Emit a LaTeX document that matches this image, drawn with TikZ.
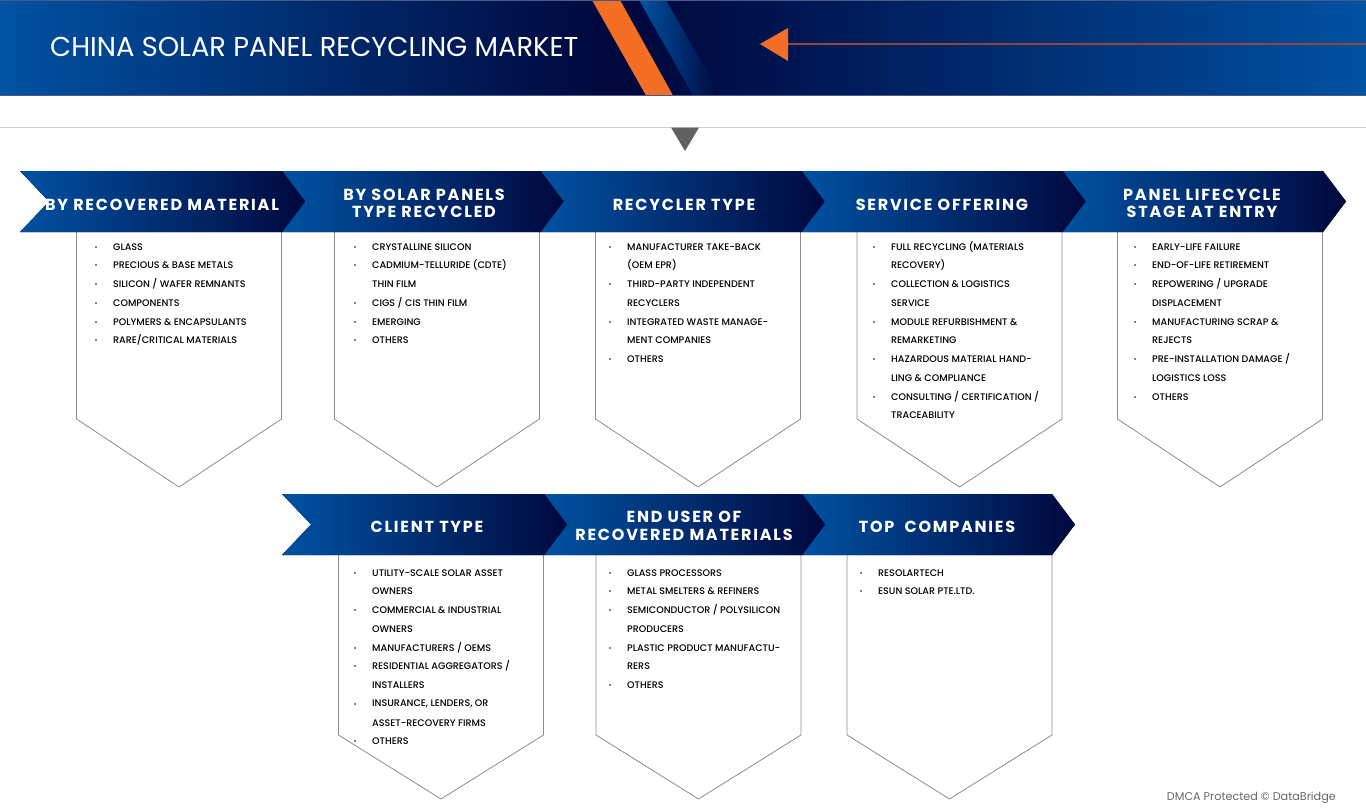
\documentclass[tikz,border=0pt]{standalone}
\usepackage{fontspec}
\setmainfont{Poppins}
\newfontfamily\heads[LetterSpace=11]{Poppins}
\newfontfamily\titlef{Poppins}
\newfontfamily\itemf{Poppins Medium}
\usetikzlibrary{calc}
\definecolor{bandblue}{RGB}{0,82,162}
\definecolor{navy}{RGB}{0,8,62}
\definecolor{midnavy}{RGB}{0,20,80}
\definecolor{orng}{RGB}{244,110,38}
\definecolor{rulebrown}{RGB}{145,70,55}
\definecolor{boxline}{RGB}{140,140,140}
\definecolor{bandedge}{RGB}{70,90,140}
\tikzset{
 chev/.style={left color=bandblue,right color=navy,draw=none},
 headtext/.style={text=white,align=center,font=\heads\bfseries\fontsize{16}{17.5}\selectfont,inner sep=0pt},
 panel/.style={draw=boxline,line width=0.8pt,fill=white},
 itemtext/.style={anchor=west,inner sep=0pt,font=\itemf\fontsize{9.55}{11}\selectfont,text=black},
 dot/.style={circle,fill=black,inner sep=0pt,minimum size=1.6pt}
}
\newcounter{itc}
% bullet line
\newcommand{\bul}[4][17]{\stepcounter{itc}\node[dot] (d\theitc) at (#2-#1,#3+1) {};\node[itemtext] (t\theitc) at (#2,#3+1) {#4};}
% continuation line
\newcommand{\cont}[3]{\stepcounter{itc}\node[itemtext] (t\theitc) at (#1,#2+1) {#3};}
% chevron: [notch depth] x0, shoulder, y top, y bottom
\newcommand{\chevron}[5][23]{\fill[chev] (#2,#4) -- (#3,#4) -- (#3+23,{(#4+#5)/2}) -- (#3,#5) -- (#2,#5) -- (#2+#1,{(#4+#5)/2}) -- cycle;}
% panel: xl, xr, ytop, yside, ytip
\newcommand{\panelbox}[5]{\draw[panel] (#1,#3) -- (#1,#4) -- ({(#1+#2)/2},#5) -- (#2,#4) -- (#2,#3);}
\begin{document}
\begin{tikzpicture}[x=1pt,y=-1pt]
\useasboundingbox (0,0) rectangle (1366,808);
% top band
\fill[left color=bandblue,right color=navy] (0,0) rectangle (600,95.5);
\fill[navy] (600,0) rectangle (640,95.5);
\fill[left color=navy,right color=midnavy] (640,0) rectangle (780,95.5);
\fill[left color=midnavy,right color=bandblue] (780,0) rectangle (1366,95.5);
\fill[left color=bandblue,right color=navy] (639,0) -- (666,0) -- (705,68) -- (720,95.5) -- (693,95.5) -- cycle;
\fill[orng] (592,0) -- (620,0) -- (673,95.5) -- (646,95.5) -- cycle;
\fill[bandedge] (0,0) rectangle (1366,0.8);
\fill[bandedge] (0,95) rectangle (1366,95.8);
\node[text=white,anchor=west,inner sep=0pt,font=\titlef\fontsize{27.3}{30}\selectfont] (title) at (50,47) {CHINA SOLAR PANEL RECYCLING MARKET};
\coordinate (linestart) at (788,44);
\coordinate (lineend) at (1366,44);
\draw[rulebrown,line width=1.2pt] (linestart) -- (lineend);
\fill[orng] (760,44) -- (788,28) -- (788,61) -- cycle;
% rule and marker
\coordinate (ruleL) at (0,127.5);
\coordinate (ruleR) at (1366,127.5);
\draw[black!18,line width=0.8pt] (ruleL) -- (ruleR);
\fill[black!62] (671,127.5) -- (699,127.5) -- (685,151) -- cycle;
% panels row 1
\panelbox{76.5}{281.5}{232}{419}{487}
\panelbox{334.5}{539.5}{232}{419}{487}
\panelbox{595.5}{800.5}{232}{419}{487}
\panelbox{857}{1062}{232}{419}{487}
\panelbox{1117.5}{1322.5}{232}{419}{487}
% panels row 2
\panelbox{338.5}{543.5}{555}{735}{799}
\panelbox{596}{801}{555}{735}{799}
\panelbox{847}{1052}{555}{735}{799}
% chevrons row 1 (right to left so tips overlap)
\chevron{1062.5}{1323}{171}{232}
\chevron{801.5}{1062.5}{171}{232}
\chevron{540.5}{801.5}{171}{232}
\chevron{282}{540.5}{171}{232}
\chevron[29]{20}{282}{171}{232}
% chevrons row 2
\chevron{802}{1052}{494}{555}
\chevron{544}{802}{494}{555}
\chevron[29]{282}{544}{494}{555}
% headings
\node[headtext] (h1) at (162,204.5) {BY RECOVERED MATERIAL};
\node[headtext] (h2) at (424,203.5) {BY SOLAR PANELS\\TYPE RECYCLED};
\node[headtext] (h3) at (684,204.5) {RECYCLER TYPE};
\node[headtext] (h4) at (942,204.5) {SERVICE OFFERING};
\node[headtext] (h5) at (1202,203.5) {PANEL LIFECYCLE\\STAGE AT ENTRY};
\node[headtext] (h6) at (427,526.5) {CLIENT TYPE};
\node[headtext] (h7) at (684,526) {END USER OF\\RECOVERED MATERIALS};
\node[headtext] (h8) at (937,526.5) {TOP\ \ COMPANIES};
% column 1
\bul{113}{246}{GLASS}
\bul{113}{264}{PRECIOUS \& BASE METALS}
\bul{113}{283}{SILICON / WAFER REMNANTS}
\bul{113}{302}{COMPONENTS}
\bul{113}{321}{POLYMERS \& ENCAPSULANTS}
\bul{113}{339}{RARE/CRITICAL MATERIALS}
% column 2
\bul{372}{246}{CRYSTALLINE SILICON}
\bul{372}{264}{CADMIUM-TELLURIDE (CDTE)}
\cont{372}{283}{THIN FILM}
\bul{372}{302}{CIGS / CIS THIN FILM}
\bul{372}{321}{EMERGING}
\bul{372}{339}{OTHERS}
% column 3
\bul{627}{246}{MANUFACTURER TAKE-BACK}
\cont{627}{264}{(OEM EPR)}
\bul{627}{283}{THIRD-PARTY INDEPENDENT}
\cont{627}{302}{RECYCLERS}
\bul{627}{321}{INTEGRATED WASTE MANAGE-}
\cont{627}{339}{MENT COMPANIES}
\bul{627}{358}{OTHERS}
% column 4
\bul{891}{246}{FULL RECYCLING (MATERIALS}
\cont{891}{264}{RECOVERY)}
\bul{891}{283}{COLLECTION \& LOGISTICS}
\cont{891}{302}{SERVICE}
\bul{891}{321}{MODULE REFURBISHMENT \&}
\cont{891}{339}{REMARKETING}
\bul{891}{358}{HAZARDOUS MATERIAL HAND-}
\cont{891}{377}{LING \& COMPLIANCE}
\bul{891}{396}{CONSULTING / CERTIFICATION /}
\cont{891}{414}{TRACEABILITY}
% column 5
\bul{1152}{246}{EARLY-LIFE FAILURE}
\bul{1152}{264}{END-OF-LIFE RETIREMENT}
\bul{1152}{283}{REPOWERING / UPGRADE}
\cont{1152}{302}{DISPLACEMENT}
\bul{1152}{321}{MANUFACTURING SCRAP \&}
\cont{1152}{339}{REJECTS}
\bul{1152}{358}{PRE-INSTALLATION DAMAGE /}
\cont{1152}{377}{LOGISTICS LOSS}
\bul{1152}{396}{OTHERS}
% column 6
\bul{372}{572}{UTILITY-SCALE SOLAR ASSET}
\cont{372}{590}{OWNERS}
\bul{372}{609}{COMMERCIAL \& INDUSTRIAL}
\cont{372}{628}{OWNERS}
\bul{372}{647}{MANUFACTURERS / OEMS}
\bul{372}{665}{RESIDENTIAL AGGREGATORS /}
\cont{372}{684}{INSTALLERS}
\bul{372}{703}{INSURANCE, LENDERS, OR}
\cont{372}{722}{ASSET-RECOVERY FIRMS}
\bul{372}{740}{OTHERS}
% column 7
\bul{627}{572}{GLASS PROCESSORS}
\bul{627}{590}{METAL SMELTERS \& REFINERS}
\bul{627}{609}{SEMICONDUCTOR / POLYSILICON}
\cont{627}{628}{PRODUCERS}
\bul{627}{647}{PLASTIC PRODUCT MANUFACTU-}
\cont{627}{665}{RERS}
\bul{627}{684}{OTHERS}
% column 8
\bul{878}{572}{RESOLARTECH}
\bul{878}{590}{ESUN SOLAR PTE.LTD.}
% watermark
\node[anchor=east,inner sep=0pt,text=black!60,font=\fontsize{11.2}{13}\selectfont] (dmca) at (1336,798) {DMCA Protected © DataBridge};
\end{tikzpicture}
\end{document}
